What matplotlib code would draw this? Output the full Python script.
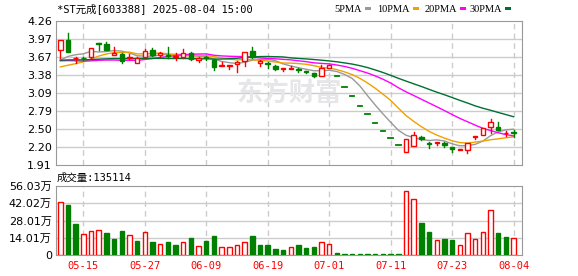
import numpy as np
import matplotlib
matplotlib.use("Agg")
import matplotlib.pyplot as plt
from matplotlib.patches import Rectangle

# daily candles 2025-05-12 .. 2025-08-04
opens = [3.79, 3.95, 3.65, 3.66, 3.67, 3.90, 3.88, 3.71, 3.72, 3.65,
         3.58, 3.67, 3.78, 3.70, 3.71, 3.67, 3.67, 3.74, 3.63, 3.67,
         3.63, 3.53, 3.53, 3.56, 3.60, 3.77, 3.58, 3.57, 3.53, 3.48,
         3.48, 3.48, 3.44, 3.41, 3.36, 3.49, 3.36, 3.19, 3.03, 2.88,
         2.74, 2.60, 2.47, 2.35, 2.23, 2.12, 2.22, 2.37, 2.27, 2.27,
         2.27, 2.21, 2.16, 2.16, 2.37, 2.40, 2.53, 2.53, 2.43, 2.45]
highs = [3.95, 4.06, 3.67, 3.67, 3.82, 3.90, 3.91, 3.84, 3.74, 3.72,
         3.67, 3.81, 3.82, 3.76, 3.84, 3.73, 3.81, 3.75, 3.67, 3.69,
         3.64, 3.59, 3.55, 3.60, 3.76, 3.84, 3.62, 3.59, 3.55, 3.49,
         3.52, 3.49, 3.45, 3.41, 3.54, 3.54, 3.36, 3.19, 3.03, 2.88,
         2.74, 2.60, 2.47, 2.35, 2.23, 2.33, 2.45, 2.38, 2.29, 2.29,
         2.29, 2.21, 2.17, 2.27, 2.38, 2.51, 2.66, 2.61, 2.47, 2.48]
lows = [3.66, 3.75, 3.58, 3.62, 3.65, 3.79, 3.78, 3.70, 3.58, 3.64,
        3.57, 3.65, 3.69, 3.67, 3.66, 3.62, 3.65, 3.63, 3.59, 3.62,
        3.46, 3.52, 3.48, 3.43, 3.53, 3.66, 3.53, 3.50, 3.46, 3.44,
        3.47, 3.43, 3.41, 3.34, 3.36, 3.49, 3.36, 3.19, 3.03, 2.88,
        2.74, 2.60, 2.47, 2.35, 2.23, 2.12, 2.22, 2.32, 2.19, 2.23,
        2.21, 2.12, 2.15, 2.11, 2.33, 2.40, 2.43, 2.48, 2.39, 2.36]
closes = [3.95, 3.75, 3.66, 3.65, 3.82, 3.89, 3.79, 3.74, 3.60, 3.67,
          3.66, 3.77, 3.71, 3.73, 3.69, 3.69, 3.74, 3.64, 3.66, 3.65,
          3.51, 3.54, 3.54, 3.59, 3.76, 3.67, 3.60, 3.56, 3.48, 3.49,
          3.50, 3.46, 3.43, 3.36, 3.49, 3.54, 3.36, 3.19, 3.03, 2.88,
          2.74, 2.60, 2.47, 2.35, 2.23, 2.33, 2.40, 2.33, 2.26, 2.28,
          2.24, 2.17, 2.17, 2.27, 2.38, 2.51, 2.61, 2.48, 2.44, 2.43]
# closes before 05-12, only used for the moving averages
prev_closes = [3.60, 3.62, 3.66, 3.70, 3.68, 3.63, 3.60, 3.64, 3.66, 3.61,
               3.68, 3.72, 3.75, 3.74, 3.70, 3.72, 3.73, 3.70, 3.68, 3.67,
               3.48, 3.40, 3.36, 3.38, 3.38, 3.45, 3.52, 3.58, 3.61]

# volume in 万 shares
volumes = [43.1, 40.4, 25.1, 16.7, 19.1, 19.9, 18.0, 12.9, 19.4, 15.9,
           11.3, 18.6, 10.5, 8.6, 10.5, 8.1, 10.5, 13.7, 7.0, 11.3,
           15.4, 6.2, 6.2, 7.8, 10.5, 15.4, 8.1, 8.1, 4.8, 4.0,
           6.2, 8.1, 5.7, 6.5, 10.5, 8.6, 1.6, 0.8, 0.8, 0.8,
           0.8, 0.8, 0.8, 0.8, 0.8, 51.7, 45.8, 26.1, 18.9, 12.1,
           12.9, 12.1, 8.1, 17.8, 12.9, 18.6, 36.9, 17.8, 14.5, 13.5]
vol_up = [1, 0, 0, 1, 1, 1, 0, 0, 0, 1,
          0, 1, 0, 1, 0, 0, 1, 0, 1, 0,
          0, 1, 1, 1, 1, 0, 0, 0, 0, 0,
          1, 0, 0, 0, 1, 1, 0, 0, 0, 0,
          0, 0, 0, 0, 0, 1, 1, 0, 0, 1,
          0, 0, 1, 1, 1, 1, 1, 0, 0, 1]

date_idx = [3, 11, 19, 27, 35, 43, 51, 59]
date_labels = ["05-15", "05-27", "06-09", "06-19", "07-01", "07-11", "07-23", "08-04"]
price_ticks = ["1.91", "2.20", "2.50", "2.79", "3.09", "3.38", "3.67", "3.97", "4.26"]
vol_ticks = ["0", "14.01万", "28.01万", "42.02万", "56.03万"]
ma_periods = [5, 10, 20, 30]
ma_colors = ["#999999", "#f0a000", "#ff00ff", "#006f32"]

RED = "#ff0000"
GREEN = "#008000"
FRAME = "#999999"
GRID = "#cccccc"
cjk = ["DejaVu Sans", "Noto Sans CJK SC"]

fig = plt.figure(figsize=(5.78, 2.76), dpi=100)
ax = fig.add_axes([56/578, 1-165/276, 466/578, 144/276])
axv = fig.add_axes([56/578, 1-255/276, 466/578, 69/276])

n = len(closes)
x = np.arange(n)
xlim = (-0.56, 60.1)
w = 0.58

for a in (ax, axv):
    a.set_xlim(*xlim)
    for s in a.spines.values():
        s.set_color(FRAME)
    a.tick_params(length=0, labelsize=8, pad=3)
    a.set_xticks([])
    for d in date_idx:
        a.axvline(d, color=GRID, lw=1, ls=(0, (4, 3)), zorder=0)

# price panel
pt = np.linspace(1.91, 4.26, 9)
ax.set_ylim(1.91, 4.26)
ax.set_yticks(pt)
ax.set_yticklabels(price_ticks)
for v in pt[1:-1]:
    ax.axhline(v, color=GRID, lw=1, zorder=0)

ax.text(0.5, 0.5, "东方财富", transform=ax.transAxes, ha="center", va="center",
        fontsize=19, fontweight="bold", color="#e6e6e9", family="Noto Sans CJK SC", zorder=0)

allc = np.array(prev_closes + closes)
k = len(prev_closes)
for p, c in zip(ma_periods, ma_colors):
    ma = [allc[k + i - p + 1:k + i + 1].mean() for i in range(n)]
    ax.plot(x, ma, color=c, lw=1, zorder=2)

for i in range(n):
    o, h, l, c = opens[i], highs[i], lows[i], closes[i]
    if c > o:
        ax.plot([i, i], [c, h], color=RED, lw=1, zorder=3)
        ax.plot([i, i], [l, o], color=RED, lw=1, zorder=3)
        ax.add_patch(Rectangle((i - w/2, o), w, c - o, fc="white", ec=RED, lw=1, zorder=4))
    elif c < o:
        ax.plot([i, i], [l, h], color=GREEN, lw=1, zorder=3)
        ax.add_patch(Rectangle((i - w/2, c), w, o - c, fc=GREEN, ec=GREEN, lw=1, zorder=4))
    else:
        col = RED if vol_up[i] else GREEN
        ax.plot([i, i], [l, h], color=col, lw=1, zorder=3)
        ax.plot([i - w/2, i + w/2], [c, c], color=col, lw=1.3, zorder=4)

# volume panel
vt = np.linspace(0, 56.03, 5)
axv.set_ylim(0, 56.03)
axv.set_yticks(vt)
axv.set_yticklabels(vol_ticks, family=cjk)
for v in vt[1:-1]:
    axv.axhline(v, color=GRID, lw=1, zorder=0)
for i in range(n):
    if vol_up[i]:
        axv.add_patch(Rectangle((i - w/2, 0), w, volumes[i], fc="white", ec=RED, lw=1, zorder=3))
    else:
        axv.add_patch(Rectangle((i - w/2, 0), w, volumes[i], fc=GREEN, ec=GREEN, lw=1, zorder=3))

for d, lab in zip(date_idx, date_labels):
    axv.text(d, -0.16, lab, transform=axv.get_xaxis_transform(), ha="center", va="center",
             color=RED, fontsize=7.5, family="DejaVu Sans Mono")

# texts above panels
fig.text(57/578, 1-9/276, "*ST元成[603388] 2025-08-04 15:00", ha="left", va="center",
         fontsize=7.5, family=["DejaVu Sans Mono", "Noto Sans CJK SC"])
fig.text(57/578, 1-178/276, "成交量:135114", ha="left", va="center",
         fontsize=7.5, family=["DejaVu Sans Mono", "Noto Sans CJK SC"])

# legend: label then small colour block
sq_x = [365, 413, 460, 505]
for sx, p, c in zip(sq_x, ma_periods, ma_colors):
    fig.text((sx - 3)/578, 1-9/276, f"{p}PMA", ha="right", va="center", fontsize=7.5,
             family="Liberation Serif")
    fig.patches.append(Rectangle((sx/578, 1-10/276), 6/578, 3/276,
                                 fc=c, ec="none", transform=fig.transFigure, figure=fig))

fig.savefig("out.png", dpi=100)
